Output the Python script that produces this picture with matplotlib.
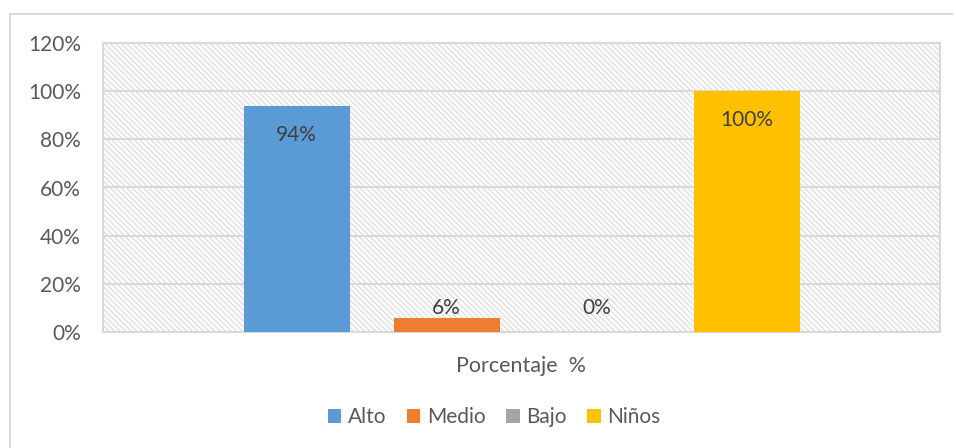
import matplotlib.pyplot as plt
from matplotlib.lines import Line2D
from matplotlib.patches import Patch, Rectangle

categorias = ["Alto", "Medio", "Bajo", "Niños"]
porcentajes = [94, 6, 0, 100]
etiquetas = ["94%", "6%", "0%", "100%"]
colores = ["#5B9BD5", "#ED7D31", "#A5A5A5", "#FFC000"]
ticks_y = [0, 20, 40, 60, 80, 100, 120]
titulo_x = "Porcentaje  %"

plt.rcParams["font.family"] = ["Lato", "DejaVu Sans"]
plt.rcParams["hatch.linewidth"] = 0.9

fig = plt.figure(figsize=(9.56, 4.48), dpi=100)
# marco exterior (solo se ven los bordes izquierdo y superior)
fig.lines.append(Line2D([10 / 956, 10 / 956, 952 / 956], [0, 1 - 14 / 448, 1 - 14 / 448],
                        transform=fig.transFigure, color="#D9D9D9", linewidth=1.5))

ax = fig.add_axes([103 / 956, 1 - 332 / 448, 837 / 956, 289 / 448])
ax.patch.set_facecolor("white")
fondo = Rectangle((0, 0), 1, 1, transform=ax.transAxes, facecolor="white",
                  edgecolor="#DCDCDC", hatch="\\\\\\\\\\\\", linewidth=0, zorder=0)
ax.add_patch(fondo)

posiciones = [-1.5, -0.5, 0.5, 1.5]
ancho = 106 / 150
ax.bar(posiciones, porcentajes, width=ancho, color=colores, zorder=3)

ax.set_ylim(0, 120)
ax.set_xlim(-2.79, 2.79)
ax.set_yticks(ticks_y)
ax.set_yticklabels([f"{t}%" for t in ticks_y])
ax.set_xticks([])
ax.grid(axis="y", color="#D9D9D9", linewidth=1.5, zorder=1)
ax.tick_params(axis="y", length=0, pad=16, labelsize=15, labelcolor="#595959")
for lado in ax.spines.values():
    lado.set_color("#D9D9D9")
    lado.set_linewidth(1.5)

# las etiquetas pequeñas quedan todas a la misma altura, como en Excel
altura_min = 6
for x, v, txt in zip(posiciones, porcentajes, etiquetas):
    if v > 50:
        ax.annotate(txt, (x, v), xytext=(0, -21), textcoords="offset points",
                    ha="center", va="center", fontsize=15, color="#404040", zorder=4)
    else:
        ax.annotate(txt, (x, max(v, altura_min)), xytext=(0, 0), textcoords="offset points",
                    ha="center", va="bottom", fontsize=15, color="#404040", zorder=4)

ax.set_xlabel(titulo_x, fontsize=15.5, color="#595959", labelpad=17)

handles = [Patch(facecolor=c, edgecolor="none") for c in colores]
fig.legend(handles, categorias, loc="center", bbox_to_anchor=(494 / 956, 1 - 417 / 448),
           ncol=4, frameon=False, fontsize=15, labelcolor="#595959",
           handlelength=0.65, handleheight=0.65, handletextpad=0.3, columnspacing=1.0)

fig.savefig("out.png", dpi=100)
